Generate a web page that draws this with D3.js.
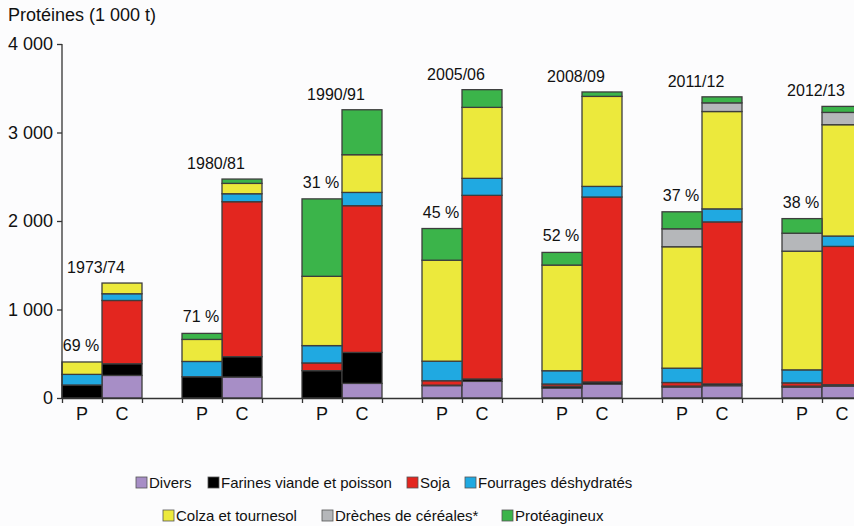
<!DOCTYPE html>
<html>
<head>
<meta charset="utf-8">
<script src="https://cdn.jsdelivr.net/npm/d3@7"></script>
<style>
  html, body { margin: 0; padding: 0; background: #fcfcfd; }
  svg { display: block; font-family: "Liberation Sans", Arial, Helvetica, sans-serif; }
</style>
</head>
<body>
<svg id="chart" width="854" height="526"></svg>
<script>
// Campaigns, and within each: P = production, C = consommation
const years = ["1973/74", "1980/81", "1990/91", "2005/06", "2008/09", "2011/12", "2012/13"];
const sides = ["P", "C"];
const shares = ["69 %", "71 %", "31 %", "45 %", "52 %", "37 %", "38 %"];

// Protein tonnage (1 000 t), ordered P, C per campaign
const divers       = [0, 255,   0, 237,   0, 165,  140,  188,  113,  158,  125,  139,  124,  135];
const farines      = [147, 132, 240, 230, 309, 350,    5,   27,   20,   23,   10,   20,   10,   15];
const soja         = [0, 715,   0, 1751, 87, 1658,  50, 2075,   25, 2090,   40, 1831,   37, 1563];
const fourrages    = [120, 76, 173,  90, 196, 150,  221,  192,  150,  120,  162,  147,  147,  117];
const colza        = [140, 121, 249, 117, 783, 426, 1141, 802, 1194, 1017, 1372, 1100, 1341, 1258];
const dreches      = [0, 0,     0,   0,   0,   0,    0,    0,    0,    0,  203,   98,  203,  139];
const proteagineux = [0, 0,    68,  49, 875, 508,  358,  200,  143,   50,  192,   68,  165,   68];

const yTicks = [0, 1000, 2000, 3000, 4000];

const series = [
  { name: "Divers", values: divers, color: "#a78ec6" },
  { name: "Farines viande et poisson", values: farines, color: "#000000" },
  { name: "Soja", values: soja, color: "#e3261f" },
  { name: "Fourrages déshydratés", values: fourrages, color: "#20a9e1" },
  { name: "Colza et tournesol", values: colza, color: "#ece93c" },
  { name: "Drèches de céréales*", values: dreches, color: "#b5b7ba" },
  { name: "Protéagineux", values: proteagineux, color: "#3bb44a" }
];

// One row per bar, with a column per series
const rows = [];
years.forEach((yr, i) => sides.forEach((s, j) => {
  const row = { year: yr, side: s };
  series.forEach(se => { row[se.name] = se.values[i * 2 + j]; });
  rows.push(row);
}));

const svg = d3.select("#chart");
const W = 854;

const x = d3.scaleBand().domain(years).range([62, 862]).paddingInner(1 / 3).paddingOuter(0).align(0);
const xs = d3.scaleBand().domain(sides).range([0, x.bandwidth()]).padding(0);
const y = d3.scaleLinear().domain([0, 4000]).range([398, 44]);

const fmt = d3.formatLocale({ decimal: ",", thousands: "\u00a0", grouping: [3], currency: ["", " €"] }).format(",d");

const stack = d3.stack().keys(series.map(s => s.name));
const stacked = stack(rows);

// Stacked segments
const layers = svg.append("g").selectAll("g")
  .data(stacked)
  .join("g")
  .attr("fill", (d, i) => series[i].color);

layers.selectAll("rect")
  .data(d => d.filter(p => p[1] - p[0] > 0))
  .join("rect")
  .attr("x", p => x(p.data.year) + xs(p.data.side))
  .attr("width", xs.bandwidth())
  .attr("y", p => y(p[1]))
  .attr("height", p => y(p[0]) - y(p[1]))
  .attr("stroke", "#3d3d3d")
  .attr("stroke-width", 1.3);

// Y axis
const yAxis = svg.append("g")
  .attr("transform", "translate(62,0)")
  .call(d3.axisLeft(y).tickValues(yTicks).tickFormat(fmt).tickSize(5).tickPadding(4));
yAxis.select(".domain").attr("stroke", "#333").attr("stroke-width", 1.3).attr("d", `M0,${y(4000)}V${y(0)}`);
yAxis.selectAll(".tick line").attr("stroke", "#333").attr("stroke-width", 1.3);
yAxis.selectAll(".tick text").attr("font-size", 18).attr("fill", "#111").attr("font-family", "Liberation Sans, Arial, sans-serif");

// X axis: ticks at each bar edge
const edges = [];
years.forEach(yr => { edges.push(x(yr), x(yr) + xs.bandwidth(), x(yr) + x.bandwidth()); });
const xLin = d3.scaleLinear().domain([62, W]).range([62, W]);
const xAxis = svg.append("g")
  .attr("transform", `translate(0,${y(0)})`)
  .call(d3.axisBottom(xLin).tickValues(edges).tickFormat("").tickSize(5).tickSizeOuter(0));
xAxis.select(".domain").attr("stroke", "#333").attr("stroke-width", 1.3);
xAxis.selectAll(".tick line").attr("stroke", "#333").attr("stroke-width", 1.3);

// P / C labels under each bar
svg.append("g").selectAll("text")
  .data(rows)
  .join("text")
  .attr("x", d => x(d.year) + xs(d.side) + xs.bandwidth() / 2)
  .attr("y", 420)
  .attr("text-anchor", "middle")
  .attr("font-size", 18)
  .attr("fill", "#111")
  .text(d => d.side);

const total = r => series.reduce((s, se) => s + r[se.name], 0);

// Campaign labels above consumption bars
svg.append("g").selectAll("text")
  .data(years)
  .join("text")
  .attr("x", (d) => x(d) + xs("C") + xs.bandwidth() / 2 - 26)
  .attr("y", (d, i) => y(total(rows[i * 2 + 1])) - 10)
  .attr("text-anchor", "middle")
  .attr("font-size", 16)
  .attr("fill", "#111")
  .text(d => d);

// Self-sufficiency share above production bars
svg.append("g").selectAll("text")
  .data(shares)
  .join("text")
  .attr("x", (d, i) => x(years[i]) + xs.bandwidth() / 2 - 1)
  .attr("y", (d, i) => y(total(rows[i * 2])) - 11)
  .attr("text-anchor", "middle")
  .attr("font-size", 16)
  .attr("fill", "#111")
  .text(d => d);

// Axis title
svg.append("text")
  .attr("x", 8)
  .attr("y", 21)
  .attr("font-size", 18)
  .attr("fill", "#111")
  .text("Protéines (1 000 t)");

// Legend, two centred rows
const legendRows = [
  { y: 477, items: [[0, 136], [1, 208], [2, 407], [3, 465]] },
  { y: 510, items: [[4, 163], [5, 322], [6, 502]] }
];
const legend = svg.append("g");
legendRows.forEach(r => {
  r.items.forEach(([k, lx]) => {
    const g = legend.append("g").attr("transform", `translate(${lx},${r.y})`);
    g.append("rect")
      .attr("width", 11).attr("height", 11)
      .attr("fill", series[k].color)
      .attr("stroke", "#555").attr("stroke-width", 0.8);
    g.append("text")
      .attr("x", 13).attr("y", 10.5)
      .attr("font-size", 15)
      .attr("fill", "#111")
      .text(series[k].name);
  });
});
</script>
</body>
</html>
